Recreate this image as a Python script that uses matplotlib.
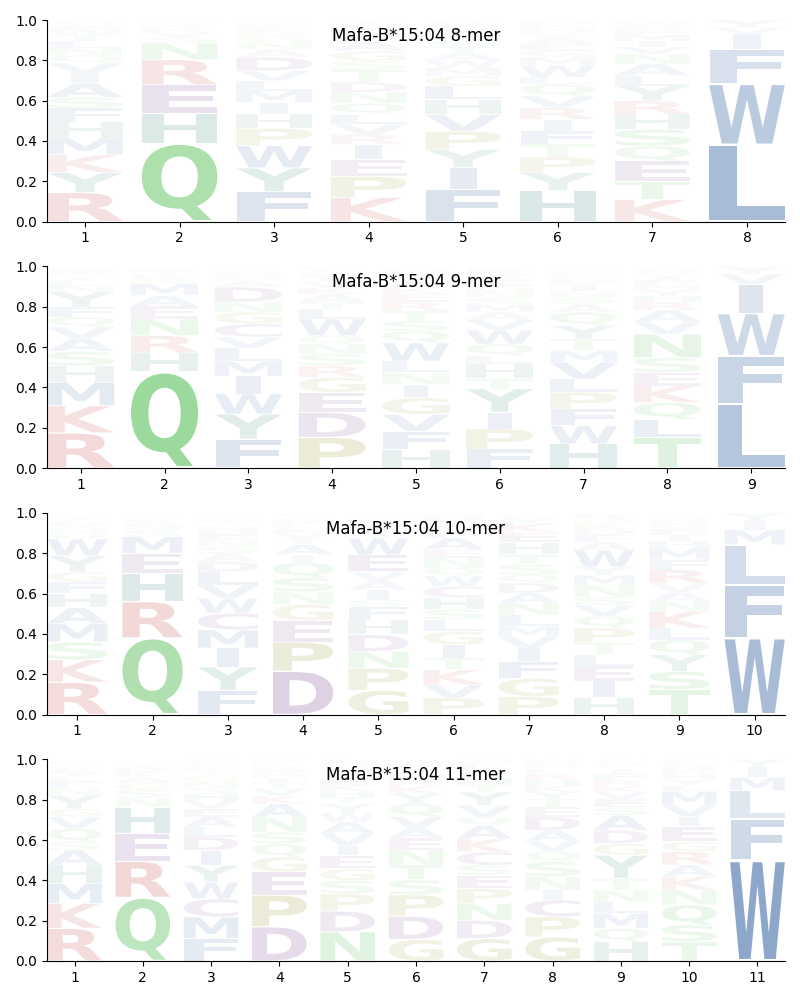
#!/usr/bin/env python3
# -*- coding: utf-8 -*-
"""
Sequence logos of Mafa-B*15:04 binding motifs (8- to 11-mers).
Letters stacked bottom to top at each position, height = frequency.
"""

import matplotlib
matplotlib.use('Agg')
import matplotlib.pyplot as plt
from matplotlib.textpath import TextPath
from matplotlib.patches import PathPatch
from matplotlib.font_manager import FontProperties
from matplotlib.transforms import Affine2D

ALLELE = 'Mafa-B*15:04'

# letters per position, listed bottom -> top, with their frequencies
LETTERS_8 = ['RYKMHFSAIVQNLTWEGDP', 'QHERNSVKADTG', 'FYWPHIMLVDANGSEKQTC',
             'KPEIRVLQNDTSGAFHMWYC', 'FIYPVHLGMWATSQNEKRDC',
             'HYPTFIRVQLWMGEASNKDC', 'KTEQSHRYLANVIMFGWDP', 'LWFIVY']
PROBS_8 = [
    [.144, .100, .088, .083, .078, .070, .053, .070, .050, .050, .040, .035,
     .035, .030, .025, .020, .015, .010, .004],
    [.388, .150, .140, .125, .083, .030, .025, .020, .015, .010, .008, .006],
    [.148, .118, .111, .086, .070, .058, .058, .050, .050, .066, .040, .035,
     .030, .025, .020, .015, .010, .008, .002],
    [.120, .104, .083, .075, .050, .050, .050, .055, .055, .050, .060, .045,
     .050, .045, .030, .025, .020, .015, .010, .008],
    [.160, .108, .090, .090, .083, .075, .066, .050, .040, .040, .035, .030,
     .030, .025, .020, .020, .015, .010, .008, .005],
    [.153, .090, .078, .063, .065, .058, .058, .058, .058, .035, .060, .040,
     .035, .030, .030, .025, .025, .020, .012, .007],
    [.110, .090, .100, .075, .083, .075, .066, .075, .050, .058, .050, .035,
     .030, .030, .025, .020, .015, .008, .005],
    [.381, .302, .174, .075, .030, .038],
]

LETTERS_9 = ['RKMHSAVQFYNLTGEWIDP', 'QHRNEAMSKTDGV', 'FYWIMLVCGNDASHETKQP',
             'PDEGRSNQWLTAKVIHYFM', 'HFVGINLWQSTREKAYDMPC',
             'FPIYTHLQWVAMSNGEKRDC', 'HWFPLVMTYQASNIEGKRDC',
             'TLQKESNVARHYMFIGDWP', 'LFWIVY']
PROBS_9 = [
    [.174, .136, .116, .080, .073, .063, .058, .050, .050, .074, .030, .025,
     .020, .015, .012, .010, .008, .004, .002],
    [.478, .093, .086, .083, .063, .053, .060, .025, .020, .015, .010, .008,
     .006],
    [.144, .124, .100, .088, .073, .066, .055, .066, .058, .050, .074, .030,
     .020, .015, .012, .010, .008, .005, .002],
    [.152, .124, .100, .074, .058, .058, .050, .041, .083, .050, .033, .040,
     .030, .030, .025, .020, .015, .010, .007],
    [.093, .090, .083, .083, .066, .058, .058, .090, .058, .050, .050, .045,
     .041, .030, .030, .025, .020, .015, .010, .005],
    [.094, .100, .083, .116, .050, .074, .040, .058, .070, .050, .040, .035,
     .035, .030, .030, .030, .025, .020, .015, .005],
    [.120, .090, .083, .083, .066, .083, .058, .058, .066, .066, .040, .035,
     .030, .030, .025, .020, .015, .010, .007, .015],
    [.152, .090, .083, .083, .066, .074, .116, .060, .060, .040, .030, .030,
     .025, .025, .020, .015, .015, .010, .006],
    [.317, .240, .210, .145, .050, .038],
]

LETTERS_10 = ['RKSMAHFGYWQNVLTEIDP', 'QRHEMSNAKTDGV', 'FYIMCWVLDASNEHGTKQRP',
              'DPEGNSQIATVKLRHYFW', 'GPNDHFSIAVEWTYQLKRMC',
              'PVKTIGLSHCWQNEAFRYDM', 'PGFIVMLNADQSTHEKYRWC',
              'HIELTPQVSNMYWAFDKGRC', 'TSYQLKNAVRFMHIEGDWPC', 'WFLMIY']
PROBS_10 = [
    [.160, .112, .088, .090, .080, .070, .058, .050, .080, .083, .030, .025,
     .020, .015, .012, .010, .008, .005, .004],
    [.380, .180, .140, .100, .083, .030, .025, .020, .015, .010, .007, .005,
     .005],
    [.120, .116, .094, .090, .083, .074, .066, .066, .050, .040, .035, .030,
     .030, .025, .025, .020, .015, .010, .008, .003],
    [.215, .144, .107, .080, .063, .070, .074, .040, .050, .030, .025, .025,
     .020, .018, .015, .010, .008, .006],
    [.120, .110, .083, .083, .074, .066, .033, .050, .045, .045, .083, .083,
     .030, .025, .020, .015, .010, .008, .007, .010],
    [.083, .066, .074, .058, .066, .066, .058, .050, .058, .058, .050, .041,
     .050, .041, .058, .030, .030, .025, .025, .013],
    [.090, .090, .083, .066, .058, .050, .058, .058, .050, .050, .041, .050,
     .050, .060, .050, .045, .025, .015, .008, .003],
    [.083, .083, .074, .058, .058, .074, .058, .055, .041, .058, .050, .041,
     .083, .040, .035, .030, .025, .025, .020, .009],
    [.124, .090, .083, .074, .058, .083, .050, .045, .045, .066, .050, .058,
     .035, .030, .030, .025, .020, .015, .012, .007],
    [.380, .264, .198, .074, .044, .040],
]

LETTERS_11 = ['RKMHASQVGYNFLTEWIDPC', 'QREHNSGAKDTMVPY', 'FMCWYIDLAEVHSNGTKQRP',
              'DPEGQSNAKVTIHWRLYF', 'NDPSGEIVAWYTHKLQFRMC',
              'GDPSTNEAVQYKRHILFMWC', 'GDNPESCKAQVYTHRILFMW',
              'GPCINSQVADETYKHRLFMW', 'HQMLNTYGDASEVKRFIPWC',
              'TSQNKARGEIVMLYHFDWPC', 'WFLMIY']
PROBS_11 = [
    [.162, .124, .100, .090, .074, .041, .066, .058, .041, .066, .035, .030,
     .025, .020, .018, .015, .012, .010, .008, .005],
    [.315, .180, .137, .132, .045, .040, .035, .030, .025, .020, .015, .010,
     .008, .005, .003],
    [.112, .107, .090, .083, .083, .074, .066, .050, .050, .040, .040, .035,
     .030, .030, .030, .025, .020, .015, .012, .008],
    [.170, .157, .115, .074, .066, .058, .074, .066, .040, .035, .030, .025,
     .020, .020, .015, .015, .010, .010],
    [.145, .102, .087, .066, .058, .066, .050, .058, .057, .045, .045, .035,
     .030, .030, .030, .025, .025, .020, .020, .006],
    [.107, .115, .107, .074, .074, .074, .058, .050, .058, .066, .050, .035,
     .030, .025, .020, .020, .015, .012, .006, .004],
    [.112, .090, .083, .074, .066, .050, .066, .066, .066, .041, .058, .066,
     .040, .030, .025, .020, .020, .015, .008, .004],
    [.120, .100, .083, .050, .066, .074, .050, .053, .053, .066, .050, .040,
     .035, .030, .030, .030, .025, .020, .015, .010],
    [.096, .066, .074, .058, .058, .058, .115, .058, .066, .074, .040, .040,
     .035, .030, .030, .030, .025, .025, .015, .007],
    [.096, .083, .100, .074, .066, .058, .066, .050, .074, .050, .058, .066,
     .030, .030, .025, .020, .020, .015, .010, .009],
    [.500, .206, .140, .066, .050, .038],
]

PANELS = [('8-mer', LETTERS_8, PROBS_8), ('9-mer', LETTERS_9, PROBS_9),
          ('10-mer', LETTERS_10, PROBS_10), ('11-mer', LETTERS_11, PROBS_11)]

# colour per residue group
GROUP_COLORS = {'AFILMVW': '#1c5096', 'NQST': '#30b030', 'KR': '#c0282a',
                'CDE': '#6a2c84', 'HY': '#107064', 'GP': '#808000'}
COLORS = {aa: col for group, col in GROUP_COLORS.items() for aa in group}

FONT = FontProperties(family='DejaVu Sans', weight='bold')
WIDTH = 0.8
VPAD = 0.02
REF_WIDTH = TextPath((0, 0), 'E', size=1, prop=FONT).get_extents().width


def draw_glyph(ax, char, x_centre, bottom, height, color, alpha):
    """Draws one letter stretched to fill [bottom, bottom + height]."""
    path = TextPath((0, 0), char, size=1, prop=FONT)
    bbox = path.get_extents()
    scale_x = WIDTH / max(bbox.width, REF_WIDTH)
    glyph_h = height * (1 - 2 * VPAD)
    scale_y = glyph_h / bbox.height
    glyph_w = bbox.width * scale_x
    trans = (Affine2D().translate(-bbox.x0, -bbox.y0)
             .scale(scale_x, scale_y)
             .translate(x_centre - glyph_w / 2, bottom + height * VPAD))
    ax.add_patch(PathPatch(trans.transform_path(path), facecolor=color,
                           edgecolor='none', lw=0, alpha=alpha))


def draw_logo(ax, letters, probs, title):
    """Stacks letters of each position from the bottom."""
    for pos, (chars, values) in enumerate(zip(letters, probs), start=1):
        bottom = 0.
        for char, value in zip(chars, values):
            draw_glyph(ax, char, pos, bottom, value, COLORS[char],
                       min(1., value))
            bottom += value
    n_pos = len(letters)
    ax.set_xlim(1 - WIDTH / 2, n_pos + WIDTH / 2)
    ax.set_ylim(0, 1)
    ax.set_xticks(range(1, n_pos + 1))
    ax.set_yticks([0, 0.2, 0.4, 0.6, 0.8, 1.0])
    ax.spines['top'].set_visible(False)
    ax.spines['right'].set_visible(False)
    ax.text(0.5, 0.921, title, transform=ax.transAxes, ha='center',
            va='center', fontsize=12)


fig, axes = plt.subplots(4, 1, figsize=(8, 10), dpi=100)
fig.subplots_adjust(left=0.059, right=0.981, top=0.98, bottom=0.039,
                    hspace=0.223)

for ax, (name, letters, probs) in zip(axes, PANELS):
    draw_logo(ax, letters, probs, '{} {}'.format(ALLELE, name))

fig.savefig('out.png', dpi=100)
